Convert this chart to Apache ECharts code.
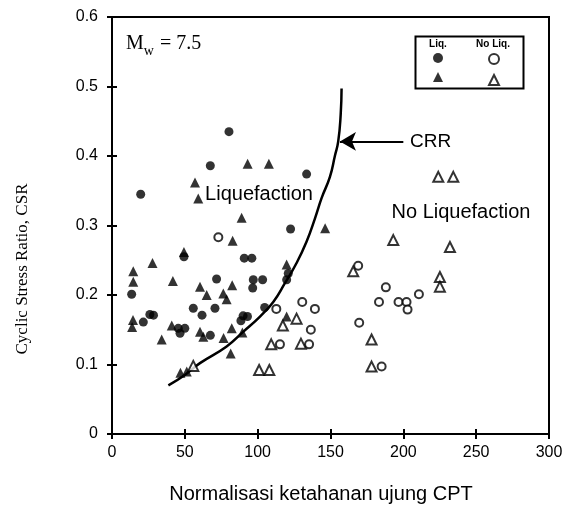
<!DOCTYPE html>
<html>
<head>
<meta charset="utf-8">
<script src="https://cdn.jsdelivr.net/npm/echarts@6.0.0/dist/echarts.min.js"></script>
<style>
  html, body { margin: 0; padding: 0; background: #fff; }
  #chart { width: 574px; height: 511px; }
</style>
</head>
<body>
<div id="chart"></div>
<script>
// values: [normalised cone resistance, CSR]
const liqCircle = [
  [19.7, 0.345], [80.3, 0.435], [67.5, 0.386], [133.6, 0.374], [122.6, 0.295],
  [49.4, 0.255], [90.8, 0.253], [96, 0.253], [71.8, 0.223], [97, 0.222],
  [103.4, 0.222], [96.6, 0.21], [13.5, 0.201], [119.9, 0.222], [121, 0.231],
  [55.8, 0.181], [61.8, 0.171], [70.7, 0.181], [104.8, 0.182], [26, 0.172],
  [28.5, 0.171], [21.5, 0.161], [45.5, 0.152], [50, 0.152], [46.7, 0.145],
  [67.5, 0.142], [88.5, 0.163], [90, 0.17], [93, 0.169]
];
const liqTri = [
  [57, 0.362], [59.2, 0.339], [93.1, 0.389], [107.7, 0.389], [89, 0.311],
  [82.8, 0.278], [146.3, 0.296], [49.4, 0.262], [27.8, 0.246], [14.6, 0.234],
  [14.6, 0.219], [41.8, 0.22], [60.4, 0.212], [65, 0.2], [82.5, 0.214],
  [76.4, 0.202], [78.7, 0.194], [119.9, 0.244], [14.4, 0.164], [13.8, 0.154],
  [34.1, 0.136], [41, 0.156], [60.4, 0.147], [62.7, 0.14], [76.6, 0.138],
  [82.2, 0.152], [89.5, 0.146], [81.5, 0.116], [47, 0.088], [51.3, 0.09],
  [119.9, 0.169]
];
const noLiqCircle = [
  [73, 0.283], [112.8, 0.18], [130.6, 0.19], [139.3, 0.18], [136.5, 0.15],
  [135.3, 0.129], [115.3, 0.129], [169, 0.242], [188, 0.211], [183.3, 0.19],
  [196.7, 0.19], [202.2, 0.19], [202.9, 0.179], [210.7, 0.201], [169.7, 0.16],
  [185.1, 0.097]
];
const noLiqTri = [
  [55.8, 0.098], [126.7, 0.166], [117.3, 0.156], [129.7, 0.13], [109.3, 0.129],
  [101, 0.092], [108, 0.092], [224, 0.37], [234.3, 0.37], [193.1, 0.279],
  [232, 0.269], [165.6, 0.234], [225.1, 0.226], [225.1, 0.212], [178.2, 0.136],
  [178.2, 0.097]
];
// CRR boundary curve
const crrCurve = [
  [38.7, 0.07], [50, 0.085], [60.4, 0.102], [78.7, 0.126], [90, 0.147],
  [101.6, 0.169], [110.7, 0.19], [118.7, 0.217], [126.7, 0.246], [133.6, 0.277],
  [139.3, 0.31], [144, 0.34], [149.6, 0.37], [153, 0.4], [155.3, 0.421],
  [157, 0.46], [157.6, 0.497]
];
const crrArrow = [[200, 0.421], [156.5, 0.421]];

const sans = "Liberation Sans, Arial, sans-serif";
const serif = "Liberation Serif, Times New Roman, serif";

const chart = echarts.init(document.getElementById("chart"));

const axisBase = {
  type: "value",
  axisLine: { show: true, lineStyle: { color: "#000", width: 2 } },
  axisTick: { show: true, length: 5, lineStyle: { color: "#000", width: 2 } },
  splitLine: { show: false },
};

const openStyle = { color: "#fff", borderColor: "#000", borderWidth: 2 };

chart.setOption({
  animation: false,
  backgroundColor: "#fff",
  grid: {
    left: 112, right: 25, top: 17, bottom: 77,
    show: true, borderColor: "#000", borderWidth: 2,
  },
  xAxis: [
    {
      ...axisBase, min: 0, max: 300, interval: 50, position: "bottom",
      axisLabel: { color: "#000", fontSize: 16, fontFamily: sans, margin: 11 },
    },
    {
      ...axisBase, min: 0, max: 300, interval: 50, position: "bottom",
      axisTick: { show: true, inside: true, length: 5, lineStyle: { color: "#000", width: 2 } },
      axisLabel: { show: false },
    },
  ],
  yAxis: [
    {
      ...axisBase, min: 0, max: 0.6, interval: 0.1, position: "left",
      axisLabel: { color: "#000", fontSize: 16, fontFamily: sans, margin: 14 },
    },
    {
      ...axisBase, min: 0, max: 0.6, interval: 0.1, position: "left",
      axisTick: { show: true, inside: true, length: 5, lineStyle: { color: "#000", width: 2 } },
      axisLabel: { show: false },
    },
  ],
  legend: [
    {
      data: ["Liq. circle", "Liq. tri"],
      orient: "vertical", left: 428, top: 48,
      itemWidth: 10, itemHeight: 10, itemGap: 9,
      formatter: () => "", selectedMode: false,
    },
    {
      data: ["No Liq. circle", "No Liq. tri"],
      orient: "vertical", left: 483, top: 48,
      itemWidth: 10, itemHeight: 10, itemGap: 9,
      formatter: () => "", selectedMode: false,
    },
  ],
  series: [
    {
      name: "CRR",
      type: "line",
      smooth: true,
      showSymbol: false,
      data: crrCurve,
      lineStyle: { color: "#000", width: 2.5 },
      z: 1,
      markLine: {
        silent: true,
        symbol: ["none", "arrow"],
        symbolSize: [14, 16],
        label: { show: false },
        lineStyle: { color: "#000", width: 2, type: "solid" },
        data: [[{ coord: crrArrow[0] }, { coord: crrArrow[1] }]],
      },
    },
    {
      name: "Liq. circle", type: "scatter", symbol: "circle", symbolSize: 9,
      data: liqCircle, itemStyle: { color: "#000" }, z: 3,
    },
    {
      name: "Liq. tri", type: "scatter", symbol: "triangle", symbolSize: 10,
      data: liqTri, itemStyle: { color: "#000" }, z: 3,
    },
    {
      name: "No Liq. circle", type: "scatter", symbol: "circle", symbolSize: 8,
      data: noLiqCircle, itemStyle: openStyle, z: 3,
    },
    {
      name: "No Liq. tri", type: "scatter", symbol: "triangle", symbolSize: 10,
      data: noLiqTri, itemStyle: openStyle, z: 3,
    },
  ],
  graphic: [
    // legend frame and column headers
    {
      type: "rect", left: 413, top: 34, z: 10,
      shape: { width: 108, height: 52 },
      style: { fill: "none", stroke: "#000", lineWidth: 2 },
    },
    {
      type: "text", x: 438, y: 44, z: 10,
      style: { text: "Liq.", font: "bold 10px " + sans, fill: "#000", align: "center", verticalAlign: "middle" },
    },
    {
      type: "text", x: 493, y: 44, z: 10,
      style: { text: "No Liq.", font: "bold 10px " + sans, fill: "#000", align: "center", verticalAlign: "middle" },
    },
    // annotations
    {
      type: "text", x: 126, y: 43, z: 10,
      style: {
        text: "{m|M}{s|w}{m| = 7.5}",
        verticalAlign: "middle",
        rich: {
          m: { fontFamily: serif, fontSize: 20, fill: "#000", lineHeight: 22, verticalAlign: "bottom" },
          s: { fontFamily: serif, fontSize: 14, fill: "#000", lineHeight: 22, verticalAlign: "bottom", padding: [0, 1, -4, 0] },
        },
      },
    },
    {
      type: "text", x: 259, y: 194, z: 10,
      style: { text: "Liquefaction", font: "20px " + sans, fill: "#000", align: "center", verticalAlign: "middle" },
    },
    {
      type: "text", x: 461, y: 212, z: 10,
      style: { text: "No Liquefaction", font: "20px " + sans, fill: "#000", align: "center", verticalAlign: "middle" },
    },
    {
      type: "text", x: 410, y: 142, z: 10,
      style: { text: "CRR", font: "19px " + sans, fill: "#000", align: "left", verticalAlign: "middle" },
    },
    // axis titles
    {
      type: "text", x: 321, y: 494, z: 10,
      style: { text: "Normalisasi ketahanan ujung CPT", font: "20px " + sans, fill: "#000", align: "center", verticalAlign: "middle" },
    },
    {
      type: "text", x: 23, y: 269, rotation: Math.PI / 2, z: 10,
      style: { text: "Cyclic Stress Ratio, CSR", font: "17px " + serif, fill: "#000", align: "center", verticalAlign: "middle" },
    },
  ],
});
</script>
</body>
</html>
